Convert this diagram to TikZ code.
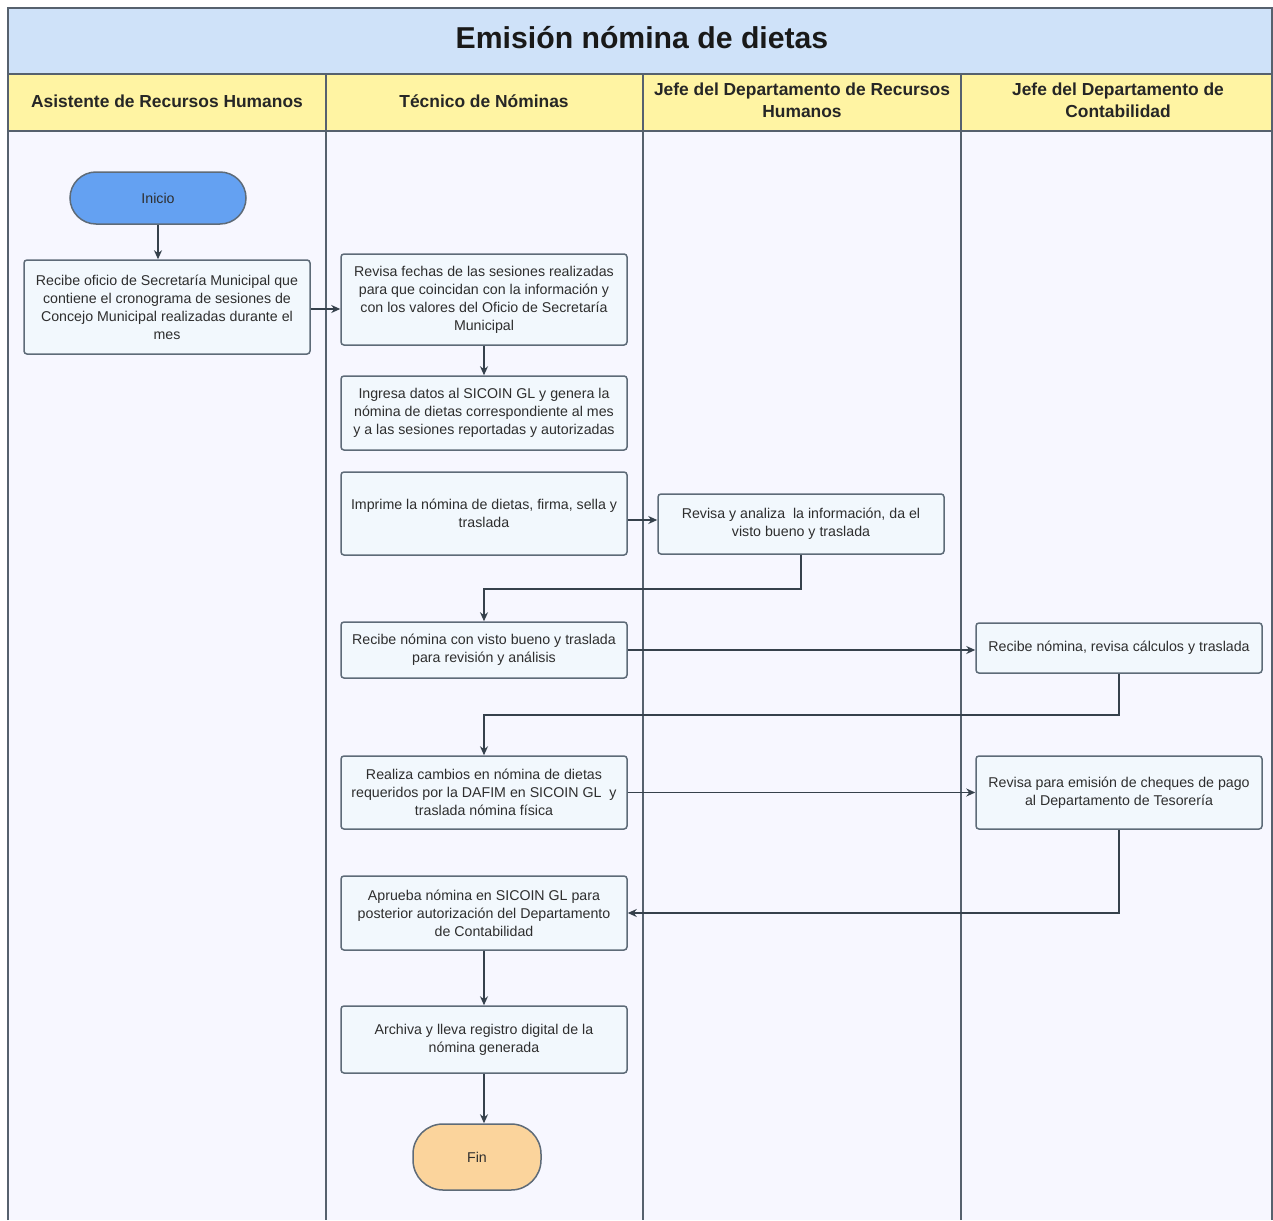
\documentclass[tikz,border=0pt]{standalone}
\usepackage{fontspec}
\setmainfont{Liberation Sans}
\usetikzlibrary{arrows.meta,calc}
\definecolor{titlebg}{HTML}{CFE2F9}
\definecolor{headbg}{HTML}{FFF4A3}
\definecolor{laneline}{HTML}{56616E}
\definecolor{boxfill}{HTML}{F2F8FD}
\definecolor{boxline}{HTML}{5E6B78}
\definecolor{inifill}{HTML}{64A1F2}
\definecolor{finfill}{HTML}{FBD49C}
\definecolor{arrowc}{HTML}{36414C}
\definecolor{txt}{HTML}{2E2E2E}
\tikzset{
  procbox/.style={draw=boxline, fill=boxfill, line width=1.5pt, rounded corners=3pt,
    minimum width=286pt, inner sep=0pt, align=center, text=txt,
    font=\fontsize{14.2}{18}\selectfont},
  termbox/.style={draw=boxline, line width=1.5pt, rounded corners=26pt, inner sep=0pt,
    align=center, text=txt, font=\fontsize{14.2}{18}\selectfont},
  headtxt/.style={align=center, text=black!85, font=\bfseries\fontsize{17.4}{22}\selectfont},
  flow/.style={draw=arrowc, line width=1.5pt, -{Stealth[length=9pt,width=8pt]}},
}
\begin{document}
\begin{tikzpicture}[x=1pt,y=-1pt]
\useasboundingbox (0,0) rectangle (1273,1220);
% background
\fill[white] (0,0) rectangle (1273,1220);
% title band
\draw[fill=titlebg, draw=laneline, line width=1.5pt] (8,1220) -- (8,8) -- (1272,8) -- (1272,1220);
\fill[titlebg] (9,9) rectangle (1271,74);
\node[font=\bfseries\fontsize{30.2}{36}\selectfont, text=black!90] (title) at (642,38) {Emisión nómina de dietas};
% header row
\fill[headbg] (9,74) rectangle (1271,131);
\draw[laneline, line width=1.5pt] (8,74) -- (1272,74);
\draw[laneline, line width=1.5pt] (8,131) -- (1272,131);
\fill[white!97!blue] (9,132) rectangle (1271,1220);
\foreach \xx in {326,643,961}{
  \draw[laneline, line width=1.5pt] (\xx,74) -- (\xx,1220);
}
\node[headtxt] (h1) at (167,101) {Asistente de Recursos Humanos};
\node[headtxt] (h2) at (484,101) {Técnico de Nóminas};
\node[headtxt] (h3) at (802,100) {Jefe del Departamento de Recursos\\Humanos};
\node[headtxt] (h4) at (1118,100) {Jefe del Departamento de\\Contabilidad};
% nodes
\node[termbox, fill=inifill, minimum width=176pt, minimum height=52pt] (ini) at (158,198) {Inicio};
\node[procbox, minimum height=94pt] (n1) at (167,307) {Recibe oficio de Secretaría Municipal que\\contiene el cronograma de sesiones de\\Concejo Municipal realizadas durante el\\mes};
\node[procbox, minimum height=91pt] (n2) at (484,299.5) {Revisa fechas de las sesiones realizadas\\para que coincidan con la información y\\con los valores del Oficio de Secretaría\\Municipal};
\node[procbox, minimum height=74pt] (n3) at (484,413) {Ingresa datos al SICOIN GL y genera la\\nómina de dietas correspondiente al mes\\y a las sesiones reportadas y autorizadas};
\node[procbox, minimum height=83pt] (n4) at (484,513.5) {Imprime la nómina de dietas, firma, sella y\\traslada};
\node[procbox, minimum height=60pt] (n5) at (801,524) {Revisa y analiza\ \ la información, da el\\visto bueno y traslada};
\node[procbox, minimum height=56pt] (n6) at (484,650) {Recibe nómina con visto bueno y traslada\\para revisión y análisis};
\node[procbox, minimum height=50pt] (n7) at (1119,648) {Recibe nómina, revisa cálculos y traslada};
\node[procbox, minimum height=73pt] (n8) at (484,792.5) {Realiza cambios en nómina de dietas\\requeridos por la DAFIM en SICOIN GL\ \ y\\traslada nómina física};
\node[procbox, minimum height=73pt] (n9) at (1119,792.5) {Revisa para emisión de cheques de pago\\al Departamento de Tesorería};
\node[procbox, minimum height=74pt] (n10) at (484,913) {Aprueba nómina en SICOIN GL para\\posterior autorización del Departamento\\de Contabilidad};
\node[procbox, minimum height=67pt] (n11) at (484,1039.5) {Archiva y lleva registro digital de la\\nómina generada};
\node[termbox, fill=finfill, rounded corners=30pt, minimum width=128pt, minimum height=66pt] (fin) at (477,1157) {Fin};
% connectors
\draw[flow] (ini.south) -- (n1.north -| ini.south);
\draw[flow] ($(n1.east)+(0,2)$) -- ($(n2.west)+(0,9.5)$);
\draw[flow] (n2.south) -- (n3.north);
\draw[flow] ($(n4.east)+(0,6.5)$) -- ($(n5.west)+(0,-4)$);
\draw[flow] (n5.south) -- ++(0,34) -| (n6.north);
\draw[flow] (n6.east) -- ($(n7.west)+(0,2)$);
\draw[flow] (n7.south) -- ++(0,41) -| (n8.north);
\draw[flow] (n8.east) -- (n9.west);
\draw[flow] (n9.south) |- (n10.east);
\draw[flow] (n10.south) -- (n11.north);
\draw[flow] (n11.south) -- (n11.south |- fin.north);
\end{tikzpicture}
\end{document}
